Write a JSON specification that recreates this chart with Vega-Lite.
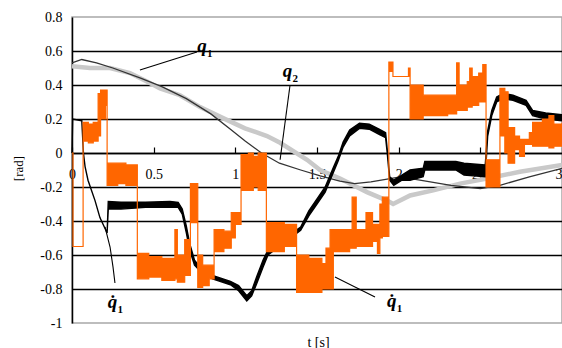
{
  "$schema": "https://vega.github.io/schema/vega-lite/v6.json",
  "width": 490,
  "height": 306,
  "autosize": {"type": "none"},
  "padding": {"left": 72, "top": 17, "right": 0, "bottom": 25},
  "background": "white",
  "config": {
    "view": {"stroke": "#a8a8a8", "strokeWidth": 1.5},
    "axis": {"labelFont": "Liberation Serif", "titleFont": "Liberation Serif", "labelColor": "#000", "titleColor": "#000", "titleFontWeight": "normal"}
  },
  "datasets": {
    "q1": [
      {"t": 0.0, "v": 0.51}, {"t": 0.11, "v": 0.5}, {"t": 0.233, "v": 0.5}, {"t": 0.355, "v": 0.47},
      {"t": 0.459, "v": 0.42}, {"t": 0.539, "v": 0.38}, {"t": 0.661, "v": 0.34}, {"t": 0.784, "v": 0.27},
      {"t": 0.925, "v": 0.205}, {"t": 1.059, "v": 0.145}, {"t": 1.194, "v": 0.1}, {"t": 1.274, "v": 0.06},
      {"t": 1.439, "v": -0.04}, {"t": 1.519, "v": -0.1}, {"t": 1.641, "v": -0.15}, {"t": 1.806, "v": -0.23},
      {"t": 1.929, "v": -0.28}, {"t": 1.966, "v": -0.3}, {"t": 2.07, "v": -0.25}, {"t": 2.211, "v": -0.22},
      {"t": 2.376, "v": -0.18}, {"t": 2.541, "v": -0.15}, {"t": 2.743, "v": -0.11}, {"t": 3.0, "v": -0.07}
    ],
    "q2": [
      {"t": 0.0, "v": 0.53}, {"t": 0.06, "v": 0.55}, {"t": 0.15, "v": 0.53}, {"t": 0.25, "v": 0.5},
      {"t": 0.42, "v": 0.44}, {"t": 0.55, "v": 0.39}, {"t": 0.7, "v": 0.32}, {"t": 0.85, "v": 0.23},
      {"t": 0.97, "v": 0.14}, {"t": 1.06, "v": 0.07}, {"t": 1.16, "v": 0.0}, {"t": 1.27, "v": -0.06},
      {"t": 1.4, "v": -0.1}, {"t": 1.52, "v": -0.135}, {"t": 1.64, "v": -0.165}, {"t": 1.73, "v": -0.18},
      {"t": 1.83, "v": -0.17}, {"t": 2.01, "v": -0.14}, {"t": 2.13, "v": -0.16}, {"t": 2.32, "v": -0.19},
      {"t": 2.5, "v": -0.21}, {"t": 2.62, "v": -0.19}, {"t": 2.8, "v": -0.14}, {"t": 3.0, "v": -0.09}
    ],
    "dq1": [
      {"t": 0.0, "v": 0.0, "hi": 0.0}, {"t": 0.004, "v": 0.2, "hi": 0.2}, {"t": 0.06, "v": 0.19, "hi": 0.19},
      {"t": 0.07, "v": 0.0, "hi": 0.0}, {"t": 0.08, "v": -0.08, "hi": -0.08}, {"t": 0.098, "v": -0.16, "hi": -0.16},
      {"t": 0.141, "v": -0.28, "hi": -0.28}, {"t": 0.171, "v": -0.38, "hi": -0.38}, {"t": 0.2, "v": -0.44, "hi": -0.44},
      {"t": 0.215, "v": -0.47, "hi": -0.47}, {"t": 0.222, "v": -0.33, "hi": -0.285}, {"t": 0.3, "v": -0.33, "hi": -0.29},
      {"t": 0.45, "v": -0.32, "hi": -0.29}, {"t": 0.6, "v": -0.32, "hi": -0.285}, {"t": 0.65, "v": -0.32, "hi": -0.29},
      {"t": 0.675, "v": -0.36, "hi": -0.33}, {"t": 0.7, "v": -0.47, "hi": -0.43}, {"t": 0.72, "v": -0.57, "hi": -0.53},
      {"t": 0.75, "v": -0.66, "hi": -0.63}, {"t": 0.8, "v": -0.71, "hi": -0.69}, {"t": 0.86, "v": -0.74, "hi": -0.72},
      {"t": 0.97, "v": -0.775, "hi": -0.755}, {"t": 1.02, "v": -0.81, "hi": -0.78}, {"t": 1.07, "v": -0.87, "hi": -0.84},
      {"t": 1.1, "v": -0.84, "hi": -0.81}, {"t": 1.13, "v": -0.77, "hi": -0.73}, {"t": 1.17, "v": -0.67, "hi": -0.63},
      {"t": 1.2, "v": -0.6, "hi": -0.57}, {"t": 1.4, "v": -0.455, "hi": -0.435}, {"t": 1.45, "v": -0.37, "hi": -0.34},
      {"t": 1.5, "v": -0.3, "hi": -0.27}, {"t": 1.55, "v": -0.23, "hi": -0.2}, {"t": 1.6, "v": -0.115, "hi": -0.085},
      {"t": 1.63, "v": -0.045, "hi": -0.02}, {"t": 1.66, "v": 0.035, "hi": 0.065}, {"t": 1.7, "v": 0.1, "hi": 0.135},
      {"t": 1.76, "v": 0.145, "hi": 0.175}, {"t": 1.82, "v": 0.14, "hi": 0.17}, {"t": 1.88, "v": 0.11, "hi": 0.14},
      {"t": 1.92, "v": 0.09, "hi": 0.12}, {"t": 1.93, "v": 0.0, "hi": 0.02}, {"t": 1.945, "v": -0.16, "hi": -0.14},
      {"t": 1.97, "v": -0.19, "hi": -0.16}, {"t": 2.02, "v": -0.16, "hi": -0.13}, {"t": 2.07, "v": -0.16, "hi": -0.1},
      {"t": 2.15, "v": -0.14, "hi": -0.09}, {"t": 2.16, "v": -0.1, "hi": -0.05}, {"t": 2.35, "v": -0.1, "hi": -0.05},
      {"t": 2.4, "v": -0.13, "hi": -0.06}, {"t": 2.53, "v": -0.14, "hi": -0.07}, {"t": 2.545, "v": 0.1, "hi": 0.13},
      {"t": 2.57, "v": 0.22, "hi": 0.25}, {"t": 2.6, "v": 0.3, "hi": 0.33}, {"t": 2.64, "v": 0.32, "hi": 0.35},
      {"t": 2.7, "v": 0.31, "hi": 0.34}, {"t": 2.78, "v": 0.28, "hi": 0.31}, {"t": 2.82, "v": 0.22, "hi": 0.25},
      {"t": 2.9, "v": 0.2, "hi": 0.235}, {"t": 3.0, "v": 0.19, "hi": 0.225}
    ],
    "dq2": [
      {"t": 0.0, "v": 0.0, "hi": 0.0}, {"t": 0.006, "v": -0.55, "hi": -0.55}, {"t": 0.068, "v": 0.07, "hi": 0.18},
      {"t": 0.1, "v": 0.06, "hi": 0.17}, {"t": 0.13, "v": 0.07, "hi": 0.18}, {"t": 0.16, "v": 0.1, "hi": 0.35},
      {"t": 0.175, "v": 0.2, "hi": 0.37}, {"t": 0.205, "v": 0.28, "hi": 0.37}, {"t": 0.215, "v": -0.19, "hi": -0.06},
      {"t": 0.28, "v": -0.18, "hi": -0.06}, {"t": 0.33, "v": -0.19, "hi": -0.07}, {"t": 0.4, "v": -0.74, "hi": -0.59},
      {"t": 0.47, "v": -0.73, "hi": -0.61}, {"t": 0.55, "v": -0.75, "hi": -0.62}, {"t": 0.63, "v": -0.74, "hi": -0.45},
      {"t": 0.645, "v": -0.76, "hi": -0.6}, {"t": 0.69, "v": -0.72, "hi": -0.51}, {"t": 0.725, "v": -0.41, "hi": -0.18},
      {"t": 0.77, "v": -0.79, "hi": -0.6}, {"t": 0.8, "v": -0.78, "hi": -0.66}, {"t": 0.84, "v": -0.74, "hi": -0.66},
      {"t": 0.87, "v": -0.58, "hi": -0.45}, {"t": 0.93, "v": -0.56, "hi": -0.46}, {"t": 0.975, "v": -0.5, "hi": -0.35},
      {"t": 1.0, "v": -0.42, "hi": -0.35}, {"t": 1.035, "v": -0.22, "hi": -0.01}, {"t": 1.08, "v": -0.22, "hi": 0.0},
      {"t": 1.11, "v": -0.2, "hi": -0.02}, {"t": 1.14, "v": -0.22, "hi": 0.0}, {"t": 1.19, "v": -0.58, "hi": -0.41},
      {"t": 1.3, "v": -0.55, "hi": -0.42}, {"t": 1.375, "v": -0.82, "hi": -0.6}, {"t": 1.45, "v": -0.82, "hi": -0.62},
      {"t": 1.53, "v": -0.8, "hi": -0.65}, {"t": 1.555, "v": -0.8, "hi": -0.56}, {"t": 1.58, "v": -0.8, "hi": -0.45},
      {"t": 1.6, "v": -0.58, "hi": -0.45}, {"t": 1.7, "v": -0.56, "hi": -0.45}, {"t": 1.715, "v": -0.56, "hi": -0.26},
      {"t": 1.74, "v": -0.55, "hi": -0.45}, {"t": 1.8, "v": -0.55, "hi": -0.35}, {"t": 1.84, "v": -0.52, "hi": -0.42},
      {"t": 1.87, "v": -0.59, "hi": -0.42}, {"t": 1.885, "v": -0.5, "hi": -0.3}, {"t": 1.9, "v": -0.49, "hi": -0.26},
      {"t": 1.94, "v": 0.48, "hi": 0.535}, {"t": 1.965, "v": 0.45, "hi": 0.45}, {"t": 2.06, "v": 0.45, "hi": 0.5},
      {"t": 2.07, "v": 0.2, "hi": 0.4}, {"t": 2.15, "v": 0.22, "hi": 0.34}, {"t": 2.3, "v": 0.23, "hi": 0.34},
      {"t": 2.355, "v": 0.25, "hi": 0.53}, {"t": 2.37, "v": 0.25, "hi": 0.4}, {"t": 2.42, "v": 0.27, "hi": 0.42},
      {"t": 2.435, "v": 0.27, "hi": 0.5}, {"t": 2.45, "v": 0.28, "hi": 0.45}, {"t": 2.49, "v": 0.3, "hi": 0.47},
      {"t": 2.515, "v": 0.3, "hi": 0.52}, {"t": 2.535, "v": -0.2, "hi": -0.04}, {"t": 2.62, "v": 0.1, "hi": 0.38},
      {"t": 2.65, "v": 0.0, "hi": 0.36}, {"t": 2.67, "v": -0.06, "hi": 0.15}, {"t": 2.71, "v": 0.02, "hi": 0.1},
      {"t": 2.74, "v": -0.02, "hi": 0.08}, {"t": 2.77, "v": 0.05, "hi": 0.08}, {"t": 2.8, "v": 0.05, "hi": 0.12},
      {"t": 2.82, "v": 0.04, "hi": 0.18}, {"t": 2.88, "v": 0.04, "hi": 0.2}, {"t": 2.92, "v": 0.03, "hi": 0.22},
      {"t": 2.95, "v": 0.04, "hi": 0.17}, {"t": 3.0, "v": 0.05, "hi": 0.18}
    ],
    "leaders": [
      {"id": "a", "t": 0.416, "v": 0.488}, {"id": "a", "t": 0.765, "v": 0.594},
      {"id": "b", "t": 1.274, "v": -0.04}, {"id": "b", "t": 1.335, "v": 0.4},
      {"id": "c", "t": 0.202, "v": -0.435}, {"id": "c", "t": 0.233, "v": -0.553}, {"id": "c", "t": 0.251, "v": -0.67}, {"id": "c", "t": 0.263, "v": -0.765},
      {"id": "d", "t": 1.61, "v": -0.73}, {"id": "d", "t": 1.855, "v": -0.847}
    ],
    "labels": [
      {"t": 0.796, "v": 0.594, "q": "q", "s": "1"},
      {"t": 1.32, "v": 0.447, "q": "q", "s": "2"},
      {"t": 0.248, "v": -0.912, "q": "q\u0307", "s": "1"},
      {"t": 1.957, "v": -0.906, "q": "q\u0307", "s": "1"}
    ]
  },
  "encoding": {
    "x": {
      "field": "t", "type": "quantitative",
      "scale": {"domain": [0, 3], "nice": false, "zero": false},
      "axis": {
        "title": "t [s]", "offset": -170, "values": [0, 0.5, 1, 1.5, 2, 2.5, 3],
        "labelExpr": "'' + datum.value", "labelFlush": false, "labelOverlap": false,
        "labelAlign": {"condition": {"test": "datum.value >= 3", "value": "right"}, "value": "center"},
        "labelFont": "Liberation Serif", "titleFont": "Liberation Serif",
        "labelFontSize": 14, "labelPadding": 20, "grid": false,
        "domainColor": "#000", "domainWidth": 1.5, "tickColor": "#000", "tickSize": -6, "tickWidth": 1.2,
        "titleFontSize": 14, "titleX": 246, "titleY": 189, "titleBaseline": "middle", "titleAlign": "center"
      }
    },
    "y": {
      "field": "v", "type": "quantitative", "title": "[rad]",
      "scale": {"domain": [-1, 0.8], "nice": false, "zero": false},
      "axis": {
        "values": [-1, -0.8, -0.6, -0.4, -0.2, 0, 0.2, 0.4, 0.6, 0.8],
        "labelExpr": "'' + datum.value", "labelFlush": false, "labelOverlap": false,
        "labelFont": "Liberation Serif", "titleFont": "Liberation Serif",
        "labelFontSize": 14, "labelPadding": 10, "ticks": false,
        "domainColor": "#000", "domainWidth": 1.5,
        "grid": true, "gridWidth": 1.5,
        "gridColor": {"condition": {"test": "datum.value > 0.7 || datum.value < -0.9", "value": "transparent"}, "value": "#000"},
        "titleFontSize": 13, "titleX": -54, "titleY": 151, "titleAlign": "center", "titleBaseline": "middle"
      }
    }
  },
  "layer": [
    {
      "data": {"name": "q1"},
      "mark": {"type": "line", "color": "#c9c9c9", "strokeWidth": 4.5}
    },
    {
      "data": {"name": "q2"},
      "mark": {"type": "line", "color": "#333333", "strokeWidth": 1.3}
    },
    {
      "data": {"name": "dq1"},
      "mark": {"type": "area", "color": "#000", "stroke": "#000", "strokeWidth": 1.4},
      "encoding": {"y2": {"field": "hi"}}
    },
    {
      "data": {"name": "dq2"},
      "mark": {"type": "area", "color": "#ff6600", "stroke": "#ff6600", "strokeWidth": 1.2, "interpolate": "step-after"},
      "encoding": {"y2": {"field": "hi"}}
    },
    {
      "data": {"name": "leaders"},
      "mark": {"type": "line", "color": "#000", "strokeWidth": 1.1},
      "encoding": {"detail": {"field": "id"}}
    },
    {
      "data": {"name": "labels"},
      "mark": {"type": "text", "font": "Liberation Serif", "fontStyle": "italic", "fontWeight": "bold", "fontSize": 19, "align": "center", "baseline": "alphabetic", "color": "#000"},
      "encoding": {"text": {"field": "q"}}
    },
    {
      "data": {"name": "labels"},
      "mark": {"type": "text", "font": "Liberation Serif", "fontWeight": "bold", "fontSize": 11, "align": "left", "baseline": "alphabetic", "dx": 5, "dy": 5, "color": "#000"},
      "encoding": {"text": {"field": "s"}}
    }
  ]
}
